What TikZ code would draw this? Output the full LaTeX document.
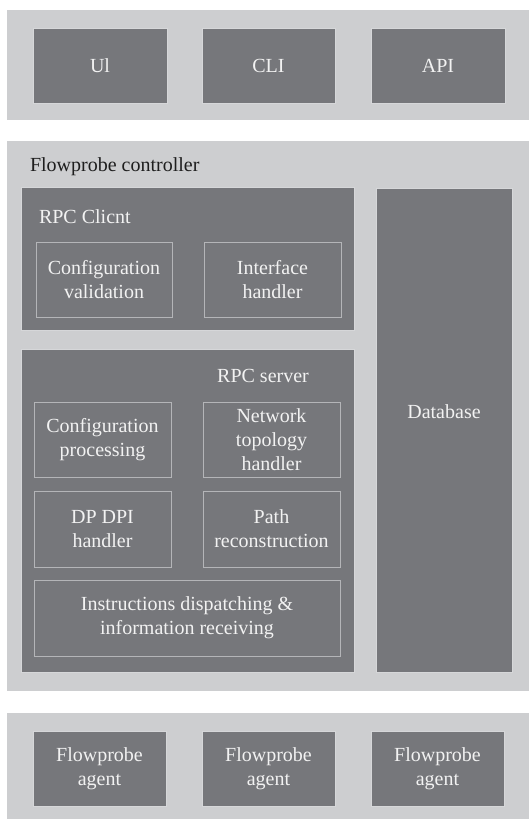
\documentclass[tikz,border=0pt]{standalone}
\usepackage{fontspec}
\setmainfont{Liberation Serif}
\definecolor{band}{HTML}{CDCED0}
\definecolor{panel}{HTML}{76777B}
\definecolor{rim}{HTML}{D6D7D9}
\definecolor{innerrim}{HTML}{B4B5B8}
\definecolor{lighttext}{HTML}{F2F2F2}
\definecolor{darktext}{HTML}{1E1E1E}
\begin{document}
\begin{tikzpicture}[x=1pt,y=-1pt,
  every node/.style={font=\fontsize{20}{24}\selectfont, inner sep=0pt, outer sep=0pt},
  layer/.style={rectangle, fill=band, draw=none},
  block/.style={rectangle, fill=panel, draw=rim, line width=0.8pt,
    text=lighttext, align=center},
  sub/.style={rectangle, fill=panel, draw=innerrim, line width=0.8pt,
    text=lighttext, align=center, minimum width=136pt, minimum height=75pt},
  tag/.style={text=lighttext},
]
\useasboundingbox[fill=white] (0,0) rectangle (529,819);

% user-facing layer
\node[layer, minimum width=522pt, minimum height=110pt] (front) at (268,65) {};
\node[block, minimum width=134pt, minimum height=75pt] (ui)  at (100,65.5) {Ul};
\node[block, minimum width=133pt, minimum height=75pt] (cli) at (268.5,65.5) {CLI};
\node[block, minimum width=134pt, minimum height=75pt] (api) at (438,65.5) {API};

% controller layer
\node[layer, minimum width=522pt, minimum height=550pt] (ctrl) at (268,416) {};
\node[anchor=west, text=darktext] (ctrltitle) at (30,167) {Flowprobe controller};

% RPC client
\node[block, minimum width=333pt, minimum height=143pt] (client) at (187.5,258.5) {};
\node[tag, anchor=west] (clienttitle) at (39,217) {RPC Clicnt};
\node[sub] (cval) at (104,279.5) {Configuration\\validation};
\node[sub, minimum width=137pt] (iface) at (272.5,279.5) {Interface\\handler};

% RPC server
\node[block, minimum width=333pt, minimum height=323pt] (server) at (187.5,510.5) {};
\node[tag] (servertitle) at (263,376) {RPC server};
\node[sub, minimum width=137pt] (cproc) at (102.5,439.5) {Configuration\\processing};
\node[sub, minimum width=137pt] (topo) at (271.5,439.5) {Network\\topology\\handler};
\node[sub, minimum width=137pt, minimum height=76pt] (dpi) at (102.5,529) {DP DPI\\handler};
\node[sub, minimum width=137pt, minimum height=76pt] (path) at (271.5,529) {Path\\reconstruction};
\node[sub, minimum width=306pt, minimum height=76pt] (disp) at (187,618) {Instructions dispatching \&\\information receiving};

% database
\node[block, minimum width=136pt, minimum height=484pt] (db) at (444,430) {};
\node[tag] (dbtitle) at (444,412) {Database};

% agent layer
\node[layer, minimum width=522pt, minimum height=106pt] (agents) at (268,766) {};
\node[block, minimum width=133pt, minimum height=75pt] (ag1) at (99.5,768.5) {Flowprobe\\agent};
\node[block, minimum width=133pt, minimum height=75pt] (ag2) at (268.5,768.5) {Flowprobe\\agent};
\node[block, minimum width=133pt, minimum height=75pt] (ag3) at (437.5,768.5) {Flowprobe\\agent};
\end{tikzpicture}
\end{document}
